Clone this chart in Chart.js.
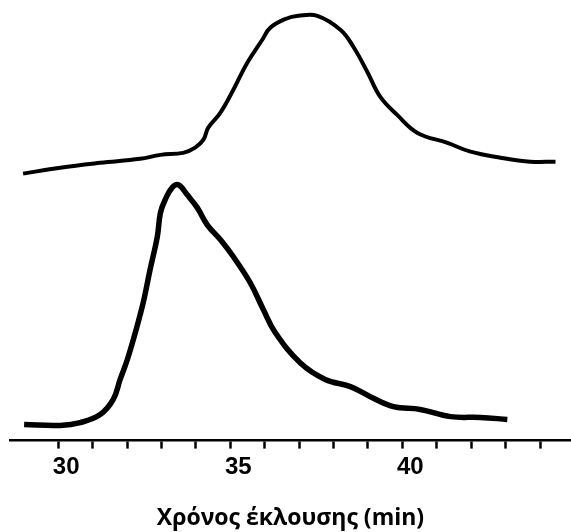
<!DOCTYPE html>
<html>
<head>
<meta charset="utf-8">
<script src="https://cdn.jsdelivr.net/npm/chart.js@4"></script>
<style>
    html, body { margin: 0; padding: 0; background: #fff; }
    #wrap { width: 571px; height: 532px; }
</style>
</head>
<body>
<div id="wrap"><canvas id="chart"></canvas></div>
<script>
// elution time (min) and detector signal (arbitrary units)
const upperTimes = [28.98, 30.06, 31.22, 32.38, 32.97, 33.63, 33.98, 34.22, 34.36, 34.71, 35.09, 35.49, 35.93, 36.16, 36.60, 36.98, 37.53, 38.20, 38.58, 38.98, 39.36, 39.85, 40.44, 41.31, 41.98, 42.85, 43.72, 44.45];
const upperSignal = [66.8, 68.3, 69.5, 70.5, 71.5, 72.0, 73.3, 75.3, 78.3, 82.0, 87.8, 94.5, 100.3, 103.3, 105.5, 106.3, 106.3, 102.8, 98.5, 92.3, 86.0, 81.5, 77.0, 74.5, 72.3, 70.8, 69.8, 69.8];

const lowerTimes = [29.01, 30.06, 30.64, 31.22, 31.60, 31.80, 32.01, 32.24, 32.47, 32.67, 32.88, 32.97, 33.11, 33.31, 33.49, 33.75, 34.04, 34.33, 34.71, 35.09, 35.58, 35.96, 36.31, 37.03, 37.76, 38.49, 39.07, 39.74, 40.52, 41.40, 42.27, 43.05];
const lowerSignal = [4.0, 3.8, 4.5, 6.5, 10.3, 15.3, 20.3, 27.0, 34.5, 42.8, 51.0, 57.0, 60.3, 63.3, 64.0, 61.5, 58.3, 54.0, 50.3, 46.0, 39.5, 32.8, 27.0, 19.5, 15.3, 13.5, 11.0, 8.5, 7.8, 6.0, 5.8, 5.3];

const tickValues = [30, 31, 32, 33, 34, 35, 36, 37, 38, 39, 40, 41, 42, 43, 44];
const labelledTicks = [30, 35, 40];
const xTitle = "Χρόνος έκλουσης (min)";

function toPoints(xs, ys) {
    return xs.map((x, i) => ({ x: x, y: ys[i] }));
}

const chart = new Chart(
    document.getElementById("chart"),
    {
        type: "line",
        data: {
            datasets: [
                {
                    data: toPoints(upperTimes, upperSignal),
                    borderColor: "#000",
                    borderWidth: 4,
                    pointRadius: 0,
                    tension: 0.4,
                    fill: false
                },
                {
                    data: toPoints(lowerTimes, lowerSignal),
                    borderColor: "#000",
                    borderWidth: 5.5,
                    pointRadius: 0,
                    tension: 0.4,
                    fill: false
                }
            ]
        },
        options: {
            responsive: true,
            maintainAspectRatio: false,
            animation: false,
            layout: {
                padding: { left: 10, right: 0, top: 0, bottom: 0 }
            },
            plugins: {
                legend: { display: false },
                tooltip: { enabled: false }
            },
            scales: {
                x: {
                    type: "linear",
                    min: 28.6,
                    max: 44.9,
                    afterBuildTicks: scale => {
                        scale.ticks = tickValues.map(v => ({ value: v }));
                    },
                    border: {
                        display: true,
                        color: "#000",
                        width: 2.5
                    },
                    grid: {
                        drawOnChartArea: false,
                        drawTicks: true,
                        tickLength: 8,
                        tickWidth: 2.5,
                        tickColor: "#000"
                    },
                    ticks: {
                        autoSkip: false,
                        maxRotation: 0,
                        padding: 4,
                        labelOffset: 8,
                        color: "#000",
                        font: { family: "Liberation Sans, Arial, sans-serif", size: 24, weight: "bold" },
                        callback: value => labelledTicks.includes(value) ? String(value) : ""
                    },
                    title: {
                        display: true,
                        text: xTitle,
                        color: "#000",
                        font: { family: "Open Sans, sans-serif", size: 23, weight: "bold" },
                        padding: { top: 19, bottom: 0 }
                    }
                },
                y: {
                    display: false,
                    min: 0,
                    max: 110.25
                }
            }
        }
    }
);
</script>
</body>
</html>
